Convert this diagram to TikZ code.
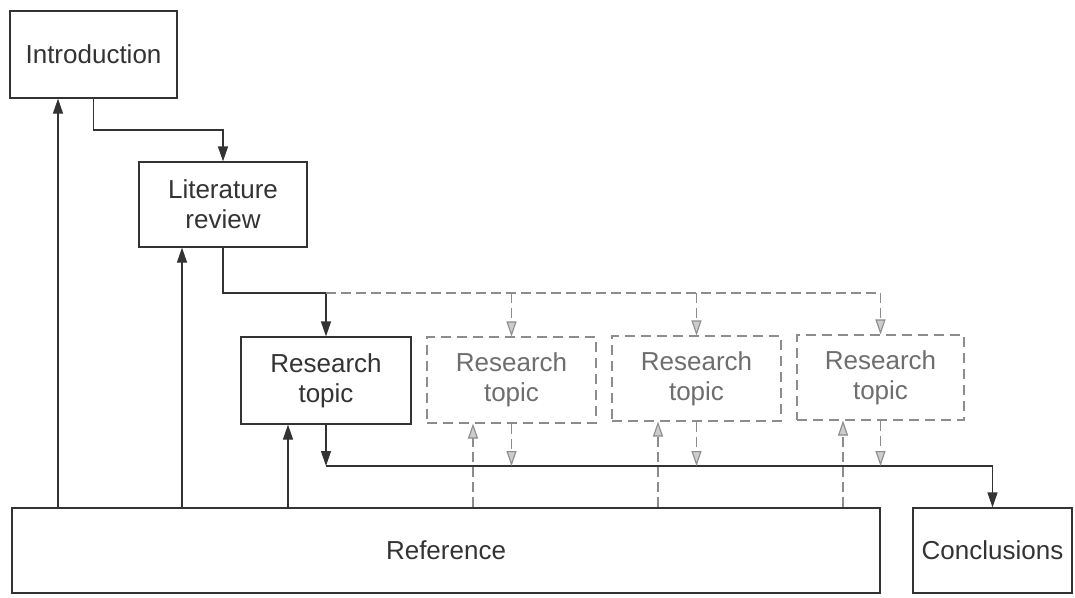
\documentclass[tikz,border=0pt]{standalone}
\usepackage{fontspec}
\setmainfont{Liberation Sans}
\usetikzlibrary{arrows.meta}
\definecolor{ink}{HTML}{333333}
\definecolor{faint}{HTML}{8C8C8C}
\definecolor{faintfill}{HTML}{CCCCCC}
\definecolor{fainttext}{HTML}{6E6E6E}
\begin{document}
\begin{tikzpicture}[x=1pt,y=-1pt,
  every node/.style={font=\fontsize{26}{30}\selectfont, align=center, inner sep=0pt},
  sbox/.style={draw=ink, line width=1.2pt, text=ink},
  dbox/.style={draw=faint, line width=1.1pt, dash pattern=on 10pt off 6pt, text=fainttext},
  arr/.style={draw=ink, line width=1.2pt, -{Triangle[length=15pt,width=10pt]}},
  darr/.style={draw=faint, line width=1.1pt, dash pattern=on 10pt off 5pt, -{Triangle[length=15pt,width=10pt,fill=faintfill]}},
  dline/.style={draw=faint, line width=1.1pt, dash pattern=on 10pt off 5pt}]
\useasboundingbox (0,0) rectangle (1075,597);
\fill[white] (0,0) rectangle (1075,597);
% boxes
\node[sbox, minimum width=167pt, minimum height=87pt] (intro) at (93.5,54.5) {Introduction};
\node[sbox, minimum width=168pt, minimum height=85pt] (lit) at (223,204.5) {Literature\\review};
\node[sbox, minimum width=170pt, minimum height=87pt] (rt1) at (326,380.5) {Research\\topic};
\node[dbox, minimum width=169pt, minimum height=86pt] (rt2) at (511.5,380) {Research\\topic};
\node[dbox, minimum width=169pt, minimum height=85pt] (rt3) at (696.5,378.5) {Research\\topic};
\node[dbox, minimum width=167pt, minimum height=85pt] (rt4) at (880.5,377.5) {Research\\topic};
\node[sbox, minimum width=868pt, minimum height=85pt] (ref) at (446,550.5) {Reference};
\node[sbox, minimum width=159pt, minimum height=85pt] (concl) at (992.5,550.5) {Conclusions};
% helper coordinates
\coordinate (ia) at (93.5,130);
\coordinate (la) at (223,293);
\coordinate (split) at (326,293);
\coordinate (dend) at (880.5,293);
\coordinate (join) at (326,466);
\coordinate (cj) at (992.5,466);
% top chain
\draw[arr] (intro.south) -- (ia) -| (lit.north);
\draw[arr] (lit.south) -- (la) -- (split) -- (rt1.north);
% dashed branches
\draw[dline] (split) -- (dend);
\draw[darr] (split -| rt2.north) -- (rt2.north);
\draw[darr] (split -| rt3.north) -- (rt3.north);
\draw[darr] (dend) -- (rt4.north);
% feedback from reference
\draw[arr] (ref.north -| 58,0) -- (intro.south -| 58,0);
\draw[arr] (ref.north -| 182,0) -- (lit.south -| 182,0);
\draw[arr] (ref.north -| 288,0) -- (rt1.south -| 288,0);
\draw[darr] (ref.north -| 473,0) -- (rt2.south -| 473,0);
\draw[darr] (ref.north -| 658,0) -- (rt3.south -| 658,0);
\draw[darr] (ref.north -| 843,0) -- (rt4.south -| 843,0);
% to conclusions
\draw[arr] (rt1.south) -- (join);
\draw[arr] (join) -- (cj) -- (concl.north);
\draw[darr] (rt2.south) -- (join -| rt2.south);
\draw[darr] (rt3.south) -- (join -| rt3.south);
\draw[darr] (rt4.south) -- (join -| rt4.south);
\end{tikzpicture}
\end{document}
